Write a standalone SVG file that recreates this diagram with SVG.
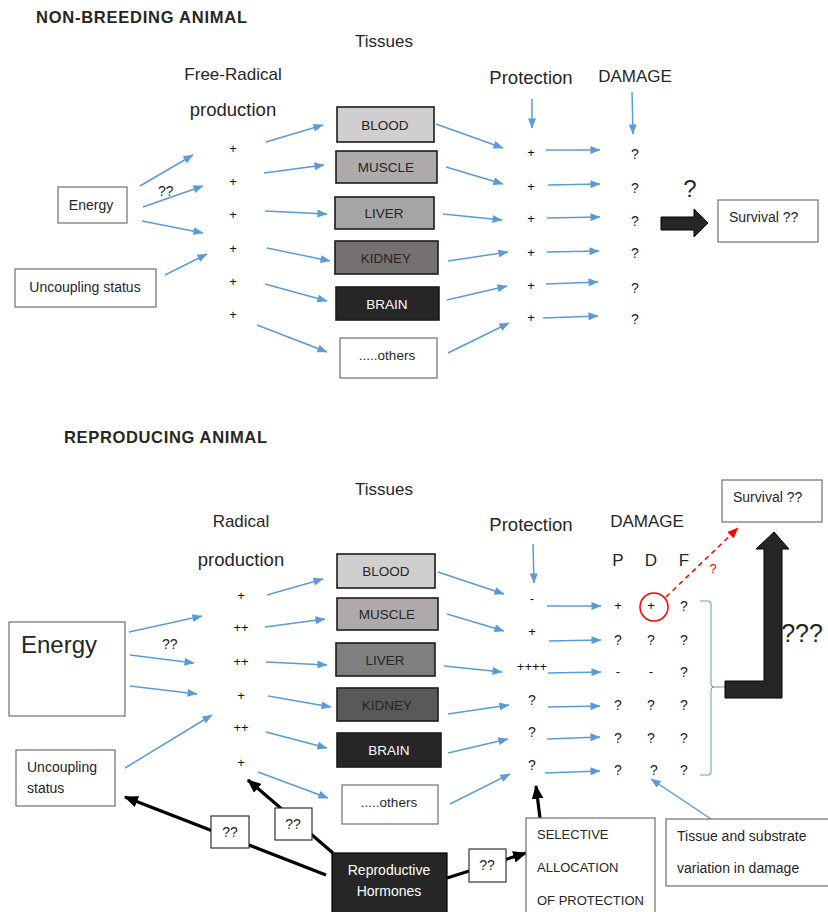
<svg xmlns="http://www.w3.org/2000/svg" width="828" height="912" viewBox="0 0 828 912">
<defs>
<style>
text{font-family:"Liberation Sans",Arial,sans-serif;fill:#262626}
.h{font-weight:bold;font-size:16.5px}
.col{font-size:17px;text-anchor:middle}
.wide{font-size:18.5px}
.pl{font-size:13px;text-anchor:middle;fill:#111}
.q{font-size:14px;text-anchor:middle;fill:#222}
.lbl{font-size:14px}
.tl{font-size:13.5px;text-anchor:middle}
.box{fill:#fff;stroke:#6f6f6f;stroke-width:1.2}
.tis{stroke:#1c1c1c;stroke-width:1.6}
.b{fill:none;stroke:#5b9bd5;stroke-width:1.5;marker-end:url(#ab)}
.k{fill:none;stroke:#000;stroke-width:3.2}
.ka{marker-end:url(#ak)}
.big{fill:#262626;stroke:#000;stroke-width:1}
</style>
<marker id="ab" viewBox="0 0 10 8" refX="9.5" refY="4" markerWidth="11" markerHeight="8" orient="auto" markerUnits="userSpaceOnUse"><path d="M0,0 L10,4 L0,8 z" fill="#5b9bd5"/></marker>
<marker id="ak" viewBox="0 0 12 10" refX="11" refY="5" markerWidth="14" markerHeight="12" orient="auto" markerUnits="userSpaceOnUse"><path d="M0,0 L12,5 L0,10 z" fill="#000"/></marker>
<marker id="ar" viewBox="0 0 10 8" refX="9.5" refY="4" markerWidth="11" markerHeight="9" orient="auto" markerUnits="userSpaceOnUse"><path d="M0,0 L10,4 L0,8 z" fill="#ff0000"/></marker>
</defs>
<rect width="828" height="912" fill="#fff"/>

<!-- ================= TOP: NON-BREEDING ================= -->
<g id="titles-top">
<text class="h" x="36" y="23" textLength="211">NON-BREEDING ANIMAL</text>
<text class="col" x="384" y="47">Tissues</text>
<text class="col" x="233" y="80">Free-Radical</text>
<text class="col wide" x="233" y="116">production</text>
<text class="col wide" x="531" y="84">Protection</text>
<text class="col" x="635" y="82">DAMAGE</text>
</g>

<g id="connectors-top">
<line class="b" x1="140" y1="186" x2="193" y2="155"/>
<line class="b" x1="143" y1="207" x2="203" y2="186"/>
<line class="b" x1="142" y1="221" x2="203" y2="233"/>
<line class="b" x1="165" y1="275" x2="207" y2="254"/>
<line class="b" x1="266" y1="142" x2="323" y2="125"/>
<line class="b" x1="264" y1="173" x2="324" y2="165"/>
<line class="b" x1="265" y1="211" x2="327" y2="214"/>
<line class="b" x1="267" y1="248" x2="330" y2="261"/>
<line class="b" x1="265" y1="284" x2="327" y2="301"/>
<line class="b" x1="257" y1="325" x2="327" y2="352"/>
<line class="b" x1="436" y1="124" x2="503" y2="148"/>
<line class="b" x1="446" y1="167" x2="503" y2="184"/>
<line class="b" x1="443" y1="214" x2="502" y2="220"/>
<line class="b" x1="448" y1="261" x2="508" y2="252"/>
<line class="b" x1="447" y1="300" x2="507" y2="286"/>
<line class="b" x1="448" y1="353" x2="509" y2="323"/>
<line class="b" x1="546" y1="150" x2="600" y2="150"/>
<line class="b" x1="548" y1="185" x2="600" y2="184"/>
<line class="b" x1="547" y1="218" x2="600" y2="217"/>
<line class="b" x1="547" y1="252" x2="599" y2="251"/>
<line class="b" x1="546" y1="284" x2="598" y2="282"/>
<line class="b" x1="543" y1="318" x2="598" y2="316"/>
<line class="b" x1="532" y1="99" x2="532" y2="128"/>
<line class="b" x1="632" y1="92" x2="633" y2="134"/>
</g>

<g id="energy-top"><rect class="box" x="58" y="187" width="69" height="36"/><text class="lbl" x="91" y="210" text-anchor="middle">Energy</text></g>
<g id="uncoupling-top"><rect class="box" x="15" y="269" width="141" height="38"/><text class="lbl" x="85" y="292" text-anchor="middle" font-size="14.5">Uncoupling status</text></g>
<text class="lbl" x="158" y="196" font-size="13">??</text>

<g id="radicals-top">
<text class="pl" x="233" y="153">+</text>
<text class="pl" x="233" y="186">+</text>
<text class="pl" x="233" y="219">+</text>
<text class="pl" x="233" y="253">+</text>
<text class="pl" x="233" y="286">+</text>
<text class="pl" x="233" y="319">+</text>
</g>

<g id="blood-top"><rect class="tis" x="337" y="107" width="97" height="35" fill="#d0cece"/><text class="tl" x="385" y="130">BLOOD</text></g>
<g id="muscle-top"><rect class="tis" x="336" y="151" width="101" height="32" fill="#aeaaaa"/><text class="tl" x="386" y="172">MUSCLE</text></g>
<g id="liver-top"><rect class="tis" x="335" y="197" width="99" height="32" fill="#a5a5a5"/><text class="tl" x="384" y="218">LIVER</text></g>
<g id="kidney-top"><rect class="tis" x="335" y="241" width="103" height="33" fill="#767171"/><text class="tl" x="386" y="263">KIDNEY</text></g>
<g id="brain-top"><rect class="tis" x="336" y="287" width="103" height="33" fill="#262626"/><text class="tl" x="387" y="309" style="fill:#fff">BRAIN</text></g>
<g id="others-top"><rect class="box" x="340" y="338" width="97" height="40"/><text class="tl" x="387" y="360">.....others</text></g>

<g id="protection-top">
<text class="pl" x="531" y="157">+</text>
<text class="pl" x="531" y="191">+</text>
<text class="pl" x="531" y="223">+</text>
<text class="pl" x="531" y="257">+</text>
<text class="pl" x="531" y="290">+</text>
<text class="pl" x="531" y="322">+</text>
</g>
<g id="damage-top">
<text class="q" x="635" y="159">?</text>
<text class="q" x="635" y="193">?</text>
<text class="q" x="635" y="226">?</text>
<text class="q" x="635" y="258">?</text>
<text class="q" x="635" y="293">?</text>
<text class="q" x="635" y="324">?</text>
</g>

<g id="arrow-top">
<polygon class="big" points="661,217 694,217 694,209 708,223 694,237 694,230 661,230"/>
<text x="690" y="197" font-size="24" text-anchor="middle">?</text>
</g>
<g id="survival-top"><rect class="box" x="718" y="200" width="100" height="42"/><text class="lbl" x="729" y="222">Survival ??</text></g>

<!-- ================= BOTTOM: REPRODUCING ================= -->
<g id="titles-bottom">
<text class="h" x="64" y="443" textLength="203">REPRODUCING ANIMAL</text>
<text class="col" x="384" y="495">Tissues</text>
<text class="col" x="241" y="527">Radical</text>
<text class="col wide" x="241" y="566">production</text>
<text class="col wide" x="531" y="531">Protection</text>
<text class="col" x="647" y="527">DAMAGE</text>
<text class="col" x="618" y="566">P</text>
<text class="col" x="651" y="566">D</text>
<text class="col" x="684" y="566">F</text>
</g>

<g id="connectors-bottom">
<line class="b" x1="129" y1="632" x2="202" y2="616"/>
<line class="b" x1="130" y1="655" x2="194" y2="663"/>
<line class="b" x1="130" y1="686" x2="197" y2="694"/>
<line class="b" x1="125" y1="768" x2="212" y2="715"/>
<line class="b" x1="267" y1="595" x2="323" y2="579"/>
<line class="b" x1="265" y1="627" x2="325" y2="619"/>
<line class="b" x1="266" y1="662" x2="327" y2="665"/>
<line class="b" x1="268" y1="696" x2="331" y2="707"/>
<line class="b" x1="266" y1="732" x2="327" y2="748"/>
<line class="b" x1="258" y1="772" x2="328" y2="798"/>
<line class="b" x1="438" y1="572" x2="504" y2="594"/>
<line class="b" x1="447" y1="614" x2="504" y2="631"/>
<line class="b" x1="444" y1="666" x2="502" y2="672"/>
<line class="b" x1="448" y1="714" x2="509" y2="705"/>
<line class="b" x1="448" y1="753" x2="508" y2="739"/>
<line class="b" x1="450" y1="804" x2="510" y2="774"/>
<line class="b" x1="547" y1="606" x2="601" y2="606"/>
<line class="b" x1="549" y1="641" x2="601" y2="640"/>
<line class="b" x1="548" y1="673" x2="601" y2="672"/>
<line class="b" x1="548" y1="707" x2="600" y2="706"/>
<line class="b" x1="547" y1="739" x2="600" y2="737"/>
<line class="b" x1="545" y1="773" x2="600" y2="771"/>
<line class="b" x1="533" y1="544" x2="534" y2="583"/>
<line class="b" x1="711" y1="819" x2="651" y2="779"/>
<path d="M700,601 L708,601 Q711,601 711,604 L711,684 Q711,687 714,687 L726,687 M714,687 Q711,687 711,690 L711,772 Q711,775 708,775 L700,775" fill="none" stroke="#5b9bd5" stroke-width="1"/>
<line x1="666" y1="597" x2="738" y2="528" stroke="#ff0000" stroke-width="1.5" stroke-dasharray="5,4" marker-end="url(#ar)"/>
<line class="k ka" x1="326" y1="875" x2="125" y2="797"/>
<line class="k ka" x1="333" y1="853" x2="248" y2="780"/>
<line class="k ka" x1="447" y1="878" x2="526" y2="853"/>
<line class="k ka" x1="540" y1="818" x2="536" y2="786"/>
</g>

<g id="energy-bottom"><rect class="box" x="9" y="622" width="116" height="94"/><text x="21" y="653" font-size="24">Energy</text></g>
<g id="uncoupling-bottom"><rect class="box" x="16" y="750" width="99" height="56"/><text class="lbl" x="27" y="772" font-size="14.5">Uncoupling</text><text class="lbl" x="27" y="793" font-size="14.5">status</text></g>
<text class="lbl" x="162" y="649" font-size="13">??</text>

<g id="radicals-bottom">
<text class="pl" x="241" y="600">+</text>
<text class="pl" x="241" y="632">++</text>
<text class="pl" x="241" y="666">++</text>
<text class="pl" x="241" y="700">+</text>
<text class="pl" x="241" y="732">++</text>
<text class="pl" x="241" y="767">+</text>
</g>

<g id="blood-bottom"><rect class="tis" x="337" y="554" width="98" height="34" fill="#d0cece"/><text class="tl" x="386" y="576">BLOOD</text></g>
<g id="muscle-bottom"><rect class="tis" x="337" y="598" width="101" height="32" fill="#aeaaaa"/><text class="tl" x="387" y="619">MUSCLE</text></g>
<g id="liver-bottom"><rect class="tis" x="336" y="643" width="99" height="33" fill="#7f7f7f"/><text class="tl" x="385" y="665">LIVER</text></g>
<g id="kidney-bottom"><rect class="tis" x="337" y="688" width="101" height="33" fill="#595959"/><text class="tl" x="387" y="710">KIDNEY</text></g>
<g id="brain-bottom"><rect class="tis" x="337" y="733" width="104" height="34" fill="#262626"/><text class="tl" x="389" y="755" style="fill:#fff">BRAIN</text></g>
<g id="others-bottom"><rect class="box" x="342" y="785" width="96" height="39"/><text class="tl" x="389" y="807">.....others</text></g>

<g id="protection-bottom">
<text class="pl" x="532" y="603">-</text>
<text class="pl" x="532" y="636">+</text>
<text class="pl" x="532" y="671">++++</text>
<text class="q" x="532" y="705">?</text>
<text class="q" x="532" y="737">?</text>
<text class="q" x="532" y="770">?</text>
</g>

<g id="damage-bottom">
<text class="pl" x="618" y="610">+</text><text class="pl" x="651" y="610">+</text><text class="q" x="684" y="611">?</text>
<text class="q" x="618" y="645">?</text><text class="q" x="651" y="645">?</text><text class="q" x="684" y="645">?</text>
<text class="pl" x="618" y="676">-</text><text class="pl" x="651" y="676">-</text><text class="q" x="684" y="677">?</text>
<text class="q" x="618" y="710">?</text><text class="q" x="651" y="710">?</text><text class="q" x="684" y="710">?</text>
<text class="q" x="618" y="743">?</text><text class="q" x="651" y="743">?</text><text class="q" x="684" y="743">?</text>
<text class="q" x="618" y="775">?</text><text class="q" x="654" y="775">?</text><text class="q" x="684" y="775">?</text>
<circle cx="654" cy="607" r="14" fill="none" stroke="#ff0000" stroke-width="1.5"/>
<text x="713" y="573" font-size="13" text-anchor="middle" style="fill:#ff0000">?</text>
</g>

<g id="arrow-bottom">
<polygon class="big" points="725,681 764,681 764,549 756,549 774,532 789,549 782,549 782,698 725,698"/>
<text x="802" y="642" font-size="25" text-anchor="middle">???</text>
</g>
<g id="survival-bottom"><rect class="box" x="722" y="480" width="100" height="42"/><text class="lbl" x="733" y="502">Survival ??</text></g>

<g id="q-uncoupling"><rect class="box" x="211" y="816" width="38" height="32" style="stroke:#333"/><text class="lbl" x="230" y="837" text-anchor="middle">??</text></g>
<g id="q-radical"><rect class="box" x="275" y="808" width="37" height="32" style="stroke:#333"/><text class="lbl" x="293" y="829" text-anchor="middle">??</text></g>
<g id="q-selective"><rect class="box" x="469" y="849" width="37" height="33" style="stroke:#333"/><text class="lbl" x="487" y="870" text-anchor="middle">??</text></g>

<g id="hormones"><rect x="332" y="853" width="115" height="70" fill="#262626" stroke="#000" stroke-width="1.2"/><text class="lbl" x="389" y="875" text-anchor="middle" style="fill:#fff">Reproductive</text><text class="lbl" x="389" y="896" text-anchor="middle" style="fill:#fff">Hormones</text></g>
<g id="selective"><rect class="box" x="526" y="818" width="129" height="100"/><text x="537" y="839" font-size="13">SELECTIVE</text><text x="537" y="872" font-size="13">ALLOCATION</text><text x="537" y="905" font-size="13">OF PROTECTION</text></g>
<g id="variation"><rect class="box" x="666" y="819" width="170" height="67"/><text class="lbl" x="677" y="841">Tissue and substrate</text><text class="lbl" x="677" y="873">variation in damage</text></g>
</svg>
